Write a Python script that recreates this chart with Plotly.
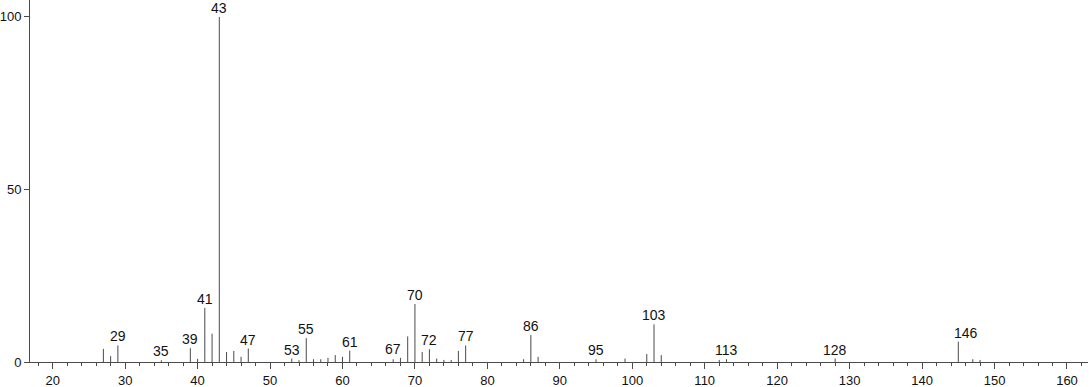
import plotly.graph_objects as go

# Peak m/z values and relative intensities (%)
mz = [27, 28, 29, 35, 39, 40, 41, 42, 43, 44, 45, 46, 47,
      53, 54, 55, 56, 57, 58, 59, 60, 61,
      67, 68, 69, 70, 71, 72, 73, 74, 75, 76, 77,
      85, 86, 87, 95, 99, 102, 103, 104, 112, 113, 128,
      145, 147, 148]
intensity = [3.8, 1.7, 4.8, 0.5, 4.0, 0.9, 15.7, 8.2, 100.0, 2.9, 3.2, 1.5, 3.9,
             1.0, 0.5, 6.9, 0.8, 0.8, 1.2, 2.0, 1.5, 3.3,
             0.8, 1.2, 7.4, 16.8, 2.9, 3.7, 1.0, 0.6, 0.6, 3.2, 4.8,
             0.8, 7.8, 1.5, 0.8, 1.0, 2.3, 10.9, 2.0, 0.6, 0.8, 1.0,
             5.9, 0.8, 0.6]

# Labelled peaks
label_mz = [29, 35, 39, 41, 43, 47, 53, 55, 61, 67, 70, 72, 77, 86, 95, 103, 113, 128, 146]

x_ticks = list(range(20, 161, 10))
y_ticks = [0, 50, 100]

line_color = "#4a4a4a"
text_color = "#111111"

xs, ys = [], []
for m, v in zip(mz, intensity):
    xs += [m, m, None]
    ys += [0, v, None]

fig = go.Figure()
fig.add_trace(go.Scatter(x=xs, y=ys, mode="lines",
                         line=dict(color=line_color, width=1),
                         hoverinfo="skip", showlegend=False))

def label_height(m):
    near = [v for p, v in zip(mz, intensity) if abs(p - m) <= 1]
    return max(near) if near else 0

for m in label_mz:
    fig.add_annotation(x=m, y=label_height(m), text=str(m), showarrow=False,
                       xanchor="center", yanchor="bottom", yshift=-1,
                       font=dict(family="Liberation Sans, Arial", size=14, color=text_color))

fig.update_layout(
    width=1091, height=387,
    margin=dict(l=30, r=3, t=0, b=25),
    paper_bgcolor="white", plot_bgcolor="white",
    font=dict(family="Liberation Sans, Arial", size=13, color=text_color),
    xaxis=dict(range=[16.87, 162.9], tickvals=x_ticks, ticks="outside", ticklen=6,
               tickcolor=line_color, showline=True, linecolor=line_color, linewidth=1,
               showgrid=False, zeroline=False,
               minor=dict(dtick=2, tick0=0, ticks="outside", ticklen=3,
                          tickcolor=line_color, showgrid=False)),
    yaxis=dict(range=[0, 104.9], tickvals=y_ticks, ticks="outside", ticklen=5,
               tickcolor=line_color, showline=True, linecolor=line_color, linewidth=1,
               showgrid=False, zeroline=False),
)

fig.write_html("out.html")
